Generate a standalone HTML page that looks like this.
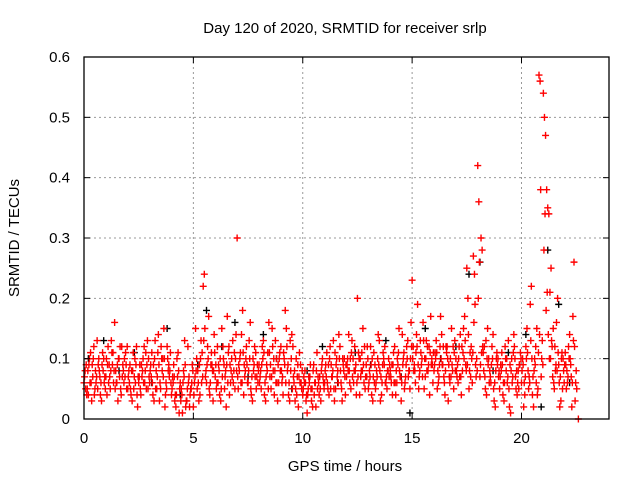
<!DOCTYPE html>
<html><head><meta charset="utf-8">
<style>
html,body{margin:0;padding:0;background:#fff;}
svg{display:block;font-family:"Liberation Sans",sans-serif;}
</style></head>
<body>
<svg id="chart" width="640" height="480">
<rect width="640" height="480" fill="#fff"/>
<text x="345" y="33" font-size="15" text-anchor="middle" fill="#000">Day 120 of 2020, SRMTID for receiver srlp</text>
<text x="345" y="471" font-size="15" text-anchor="middle" fill="#000">GPS time / hours</text>
<text transform="translate(19,238) rotate(-90)" font-size="15" text-anchor="middle" fill="#000">SRMTID / TECUs</text>
<g id="grid"></g>
<g id="marks"></g>
<g id="axes"></g>
</svg>
<script>
// sample hours (each row = one hour, samples every 0.1 h)
const redA = [
[.06,.09,.04,.11,.07,.05,.13,.08,.03,.10],
[.07,.12,.05,.09,.16,.06,.10,.04,.08,.11],
[.05,.09,.03,.07,.12,.06,.04,.10,.08,.13],
[.06,.11,.03,.08,.14,.05,.10,.02,.12,.07],
[.04,.09,.02,.11,.06,.01,.13,.03,.07,.05],
[.02,.15,.08,.04,.11,.24,.06,.17,.09,.03],
[.07,.12,.04,.15,.09,.02,.11,.06,.13,.05],
[.30,.08,.14,.04,.10,.06,.16,.03,.12,.07],
[.09,.05,.13,.03,.11,.07,.15,.04,.10,.06],
[.12,.04,.18,.08,.03,.14,.06,.10,.02,.09],
[.04,.08,.01,.06,.03,.09,.02,.07,.05,.10],
[.06,.11,.04,.09,.13,.05,.08,.12,.03,.10],
[.07,.14,.05,.10,.08,.20,.04,.11,.06,.09],
[.05,.12,.03,.09,.07,.13,.04,.10,.06,.08],
[.08,.04,.12,.06,.15,.03,.10,.07,.13,.05],
[.23,.09,.14,.05,.11,.16,.07,.12,.04,.10],
[.08,.13,.06,.17,.09,.04,.12,.07,.15,.05],
[.10,.06,.14,.08,.17,.25,.05,.12,.27,.09],
[.42,.07,.28,.12,.04,.10,.06,.14,.02,.09],
[.05,.11,.03,.08,.13,.01,.07,.10,.04,.09],
[.06,.02,.12,.08,.19,.04,.10,.15,.57,.07],
[.54,.47,.35,.21,.12,.05,.16,.09,.03,.10],
[.11,.06,.14,.02,.26,.08,.0]
];
// second pass, offset by 0.05 h
const redB = [
[.08,.05,.10,.03,.12,.06,.09,.04,.11,.07],
[.04,.09,.13,.06,.08,.03,.12,.07,.10,.05],
[.08,.04,.11,.06,.02,.09,.07,.12,.05,.10],
[.09,.04,.13,.07,.03,.10,.15,.06,.08,.11],
[.07,.03,.10,.01,.05,.08,.02,.12,.04,.09],
[.06,.10,.03,.13,.22,.07,.12,.04,.09,.14],
[.05,.09,.03,.12,.07,.17,.04,.10,.08,.14],
[.05,.11,.18,.07,.09,.13,.04,.08,.11,.06],
[.07,.12,.04,.09,.16,.05,.08,.13,.03,.11],
[.06,.10,.15,.04,.08,.12,.03,.07,.11,.05],
[.07,.03,.05,.09,.02,.06,.11,.04,.08,.06],
[.09,.05,.12,.07,.03,.10,.14,.06,.09,.04],
[.10,.06,.13,.08,.04,.11,.07,.15,.05,.12],
[.08,.04,.11,.06,.14,.03,.09,.12,.05,.07],
[.06,.11,.04,.09,.07,.14,.05,.12,.08,.16],
[.12,.06,.19,.08,.10,.05,.13,.09,.17,.06],
[.11,.05,.09,.14,.07,.12,.03,.10,.08,.13],
[.07,.12,.04,.15,.09,.20,.11,.06,.24,.10],
[.36,.30,.11,.05,.15,.08,.12,.03,.10,.07],
[.09,.04,.12,.06,.02,.10,.14,.05,.08,.11],
[.10,.04,.15,.07,.22,.02,.12,.05,.56,.13],
[.50,.38,.34,.25,.15,.08,.20,.02,.11,.06],
[.05,.12,.09,.17,.03]
];
// third pass, offset by 0.025 h
const redC = [
[.07,.04,.09,.06,.10,.08,.05,.07,.09,.06],
[.10,.06,.08,.11,.05,.09,.07,.12,.06,.09],
[.07,.05,.08,.10,.04,.07,.09,.06,.11,.05],
[.08,.06,.10,.05,.09,.12,.07,.04,.10,.08],
[.05,.07,.04,.08,.03,.06,.09,.05,.02,.06],
[.04,.08,.06,.10,.07,.15,.09,.05,.11,.08],
[.09,.06,.10,.07,.05,.09,.12,.08,.06,.10],
[.07,.10,.06,.09,.12,.08,.05,.10,.07,.09],
[.06,.09,.11,.07,.05,.09,.12,.08,.06,.10],
[.08,.11,.06,.09,.13,.05,.08,.04,.07,.06],
[.05,.06,.04,.07,.05,.04,.08,.06,.03,.07],
[.08,.06,.10,.07,.05,.09,.06,.08,.10,.07],
[.09,.08,.11,.06,.09,.07,.10,.08,.12,.07],
[.06,.09,.07,.05,.10,.08,.06,.09,.07,.10],
[.07,.09,.06,.10,.08,.06,.11,.09,.07,.10],
[.10,.08,.12,.07,.09,.13,.10,.08,.11,.09],
[.09,.11,.07,.10,.12,.08,.10,.06,.09,.11],
[.08,.10,.07,.11,.13,.09,.08,.10,.16,.07],
[.20,.09,.12,.07,.10,.06,.09,.05,.08,.10],
[.07,.09,.06,.10,.05,.08,.11,.07,.06,.09],
[.08,.06,.10,.05,.13,.07,.09,.04,.14,.10],
[.28,.18,.14,.10,.07,.12,.08,.06,.10,.08],
[.09,.07,.10,.06,.12,.05]
];
// fourth pass, offset by 0.075 h
const redD = [
[.05,.08,.06,.09,.04,.07,.10,.06,.08,.05],
[.09,.07,.11,.08,.06,.10,.05,.09,.07,.12],
[.06,.08,.05,.09,.07,.05,.08,.06,.09,.07],
[.07,.09,.05,.11,.06,.08,.10,.05,.09,.06],
[.06,.04,.07,.05,.04,.07,.03,.06,.05,.08],
[.07,.05,.09,.06,.13,.08,.10,.06,.08,.11],
[.06,.08,.05,.10,.08,.06,.09,.07,.11,.08],
[.09,.06,.11,.08,.06,.10,.07,.09,.05,.08],
[.08,.10,.06,.08,.11,.07,.10,.06,.09,.08],
[.07,.09,.12,.06,.10,.07,.05,.09,.06,.08],
[.06,.04,.07,.05,.08,.06,.05,.07,.09,.05],
[.07,.09,.05,.08,.11,.07,.10,.05,.08,.09],
[.08,.10,.07,.12,.06,.10,.08,.09,.07,.10],
[.07,.10,.06,.08,.09,.07,.11,.06,.08,.09],
[.09,.06,.08,.11,.07,.09,.06,.10,.08,.12],
[.08,.11,.09,.13,.07,.10,.08,.12,.09,.11],
[.10,.08,.12,.09,.06,.11,.09,.07,.12,.08],
[.09,.07,.12,.10,.08,.14,.07,.11,.19,.08],
[.26,.11,.08,.13,.09,.07,.10,.06,.11,.08],
[.08,.06,.10,.07,.09,.06,.12,.08,.05,.10],
[.09,.07,.11,.06,.10,.08,.06,.11,.38,.09],
[.34,.21,.10,.13,.06,.09,.11,.07,.05,.09],
[.08,.10,.07,.13,.06]
];
const blackT = [0.2,0.9,1.6,2.3,3.1,3.8,4.4,5.2,5.6,6.3,6.9,7.5,8.2,8.8,9.5,10.2,10.9,11.6,12.4,13.1,13.8,14.5,14.9,15.6,16.3,17.0,17.6,18.1,18.7,19.4,20.2,20.9,21.2,21.7,22.2];
const blackV = [0.10,0.13,0.08,0.11,0.06,0.15,0.04,0.09,0.18,0.12,0.16,0.07,0.14,0.10,0.05,0.08,0.12,0.06,0.11,0.09,0.13,0.07,0.01,0.15,0.10,0.12,0.24,0.26,0.08,0.11,0.14,0.02,0.28,0.19,0.06];
const xTicks = [0,5,10,15,20];
const yTicks = [0,0.1,0.2,0.3,0.4,0.5,0.6];
const yTickLabels = ["0","0.1","0.2","0.3","0.4","0.5","0.6"];

const L=84,R=609,T=57,B=419, XMAX=24, YMAX=0.6;
const xs = t => L + t/XMAX*(R-L);
const ys = v => B - v/YMAX*(B-T);
const NS="http://www.w3.org/2000/svg";
function mk(tag, attrs, parent){const e=document.createElementNS(NS,tag);for(const k in attrs)e.setAttribute(k,attrs[k]);parent.appendChild(e);return e;}
const grid=document.getElementById('grid'), marks=document.getElementById('marks'), axes=document.getElementById('axes');

xTicks.forEach(t=>{
  if(t>0){const g=mk('line',{x1:xs(t),x2:xs(t),y1:T,y2:B,stroke:'#999','stroke-dasharray':'2,3','stroke-width':1},grid);
  
  }
  const tk=mk('line',{x1:xs(t),x2:xs(t),y1:B,y2:B-6,stroke:'#000'},axes);
  
  
  const tk2=mk('line',{x1:xs(t),x2:xs(t),y1:T,y2:T+6,stroke:'#000'},axes);
  
  
  const lb=mk('text',{x:xs(t),y:443,'font-size':15,'text-anchor':'middle',fill:'#000'},axes);
  lb.textContent=String(t);
  
  
});
yTicks.forEach((v,i)=>{
  if(v>0&&v<YMAX){const g=mk('line',{x1:L,x2:R,y1:ys(v),y2:ys(v),stroke:'#999','stroke-dasharray':'2,3','stroke-width':1},grid);
  
  }
  const tk=mk('line',{x1:L,x2:L+6,y1:ys(v),y2:ys(v),stroke:'#000'},axes);
  
  
  const tk2=mk('line',{x1:R,x2:R-6,y1:ys(v),y2:ys(v),stroke:'#000'},axes);
  
  
  const lb=mk('text',{x:L-14,y:ys(v)+5,'font-size':15,'text-anchor':'end',fill:'#000'},axes);
  lb.textContent=yTickLabels[i];
  
  
});
const frame=mk('rect',{x:L,y:T,width:R-L,height:B-T,fill:'none',stroke:'#000','stroke-width':1.3},axes);



function plus(t,v,color,name){
  const x=xs(t),y=ys(v);
  const p=mk('path',{d:`M${x-3.5},${y}H${x+3.5}M${x},${y-3.5}V${y+3.5}`,stroke:color,'stroke-width':1.4,fill:'none'},marks);
  
  
}
blackT.forEach((t,i)=>plus(t,blackV[i],'#000','black-point'));
redA.forEach((row,h)=>row.forEach((v,i)=>plus(h+i/10,v,'#f00','red-point')));
redB.forEach((row,h)=>row.forEach((v,i)=>plus(h+0.05+i/10,v,'#f00','red-point')));
redC.forEach((row,h)=>row.forEach((v,i)=>plus(h+0.025+i/10,v,'#f00','red-point')));
redD.forEach((row,h)=>row.forEach((v,i)=>plus(h+0.075+i/10,v,'#f00','red-point')));
</script>
</body></html>
